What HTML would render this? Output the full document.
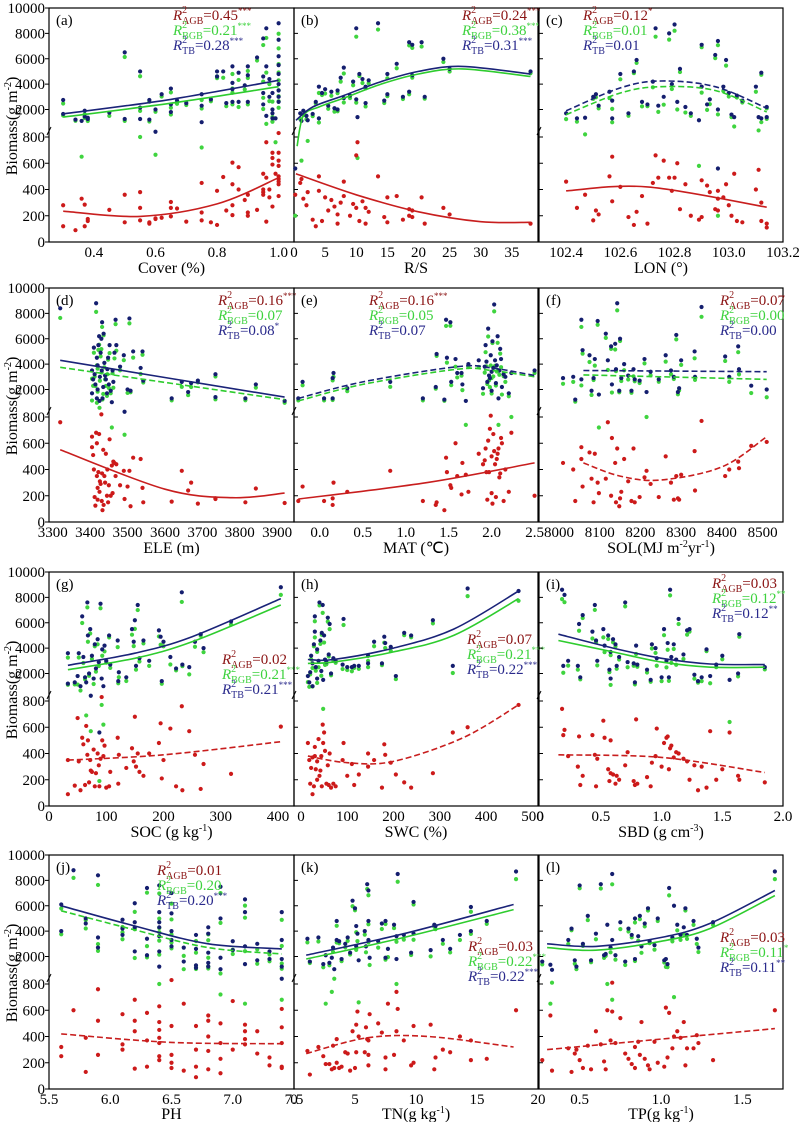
<!DOCTYPE html>
<html><head><meta charset="utf-8">
<style>
html,body{margin:0;padding:0;background:#fff;}
svg{display:block;font-family:"Liberation Serif",serif;}
</style></head>
<body>
<svg id="chart" width="799" height="1122" viewBox="0 0 799 1122" xmlns="http://www.w3.org/2000/svg">
<rect width="799" height="1122" fill="#fff"/>
</svg>
<script>
// ---------- data (x, TB, BGB, AGB per sample) ----------
const aX=[0.30,0.30,0.34,0.36,0.37,0.37,0.38,0.38,0.45,0.50,0.50,0.55,0.55,0.55,0.58,0.58,0.60,0.60,0.62,0.65,0.65,0.65,0.67,0.70,0.75,0.75,0.75,0.78,0.80,0.80,0.82,0.83,0.85,0.85,0.85,0.85,0.87,0.87,0.89,0.90,0.90,0.90,0.93,0.95,0.95,0.95,0.95,0.96,0.96,0.96,0.97,0.97,0.98,0.98,0.98,0.98,0.99,1.00,1.00,1.00,1.00,1.00,1.00,1.00,1.00,1.00];
const aTB=[2750,1650,1200,1100,1900,1450,1350,1250,1750,6500,1250,5000,2150,1250,1200,2750,2000,840,3200,3650,2400,1800,2700,2500,3200,2300,1000,2800,5000,4600,5000,2500,5400,4100,3600,2600,4900,2600,3900,5400,4700,2600,6100,7600,4600,3300,2400,8400,5400,1500,4400,3000,3300,1700,2000,1300,1300,8800,7500,6200,5500,4800,4000,3500,3000,2600];
const aBGB=[2470,1530,1110,650,1620,1330,1180,1090,1500,6140,1100,4620,1890,800,1050,2610,1820,665,3020,3350,2140,1600,2450,2350,2750,2080,720,2650,4610,4470,4500,2260,4800,3660,3320,2400,4330,2200,3580,5040,4480,2400,5860,7080,4200,2920,2040,7640,4910,900,4000,2660,2620,1060,1410,1030,760,7970,6820,5580,4920,4300,3520,3060,2650,2140];
const aAGB=[280,120,90,330,285,120,175,160,245,360,150,380,260,165,150,140,180,175,185,305,260,195,255,155,450,225,165,150,390,130,495,240,605,440,280,205,570,400,320,360,225,200,245,520,400,380,360,760,490,155,400,340,680,640,590,270,520,830,680,620,580,500,480,440,350,460];

const bX=[0.2,1.2,2.2,1,1.5,2,3,3.5,4,4,4.5,5,5.5,6,6.5,7,7,7.5,8,8,9,9.5,10,10,10.2,10.5,11,11.5,11.5,12,13.5,14.5,15,15,16.5,17.5,18.5,18.5,19,19,20.5,21,24,25,38];
const bTB=[560,1100,1150,1700,1900,1500,1650,2600,3800,1300,3300,3600,2300,3400,2100,3500,2000,4500,5300,2900,3100,4200,8400,2800,1400,4800,4400,3800,2500,4300,8800,2700,4800,3200,5600,3000,7300,3400,4700,7100,7300,3000,6000,5200,5000];
const bBGB=[200,620,770,1250,1570,1220,1480,2480,3300,910,3140,3260,2060,3080,1830,3290,1860,4200,4840,2550,2900,3910,7740,2540,640,4640,4090,3660,2240,4070,8300,2510,4460,3050,5250,2830,7050,3200,4510,6860,6960,2860,5740,4990,4860];
const bAGB=[360,480,380,450,330,280,170,120,500,390,160,340,240,320,270,210,140,300,460,350,200,290,660,260,760,160,310,140,260,230,500,190,340,150,350,170,250,200,190,240,340,140,260,210,140];

const cX=[102.40,102.44,102.47,102.50,102.51,102.52,102.56,102.57,102.57,102.60,102.63,102.65,102.66,102.68,102.70,102.72,102.73,102.74,102.76,102.78,102.79,102.80,102.81,102.82,102.84,102.86,102.89,102.90,102.90,102.92,102.93,102.95,102.96,102.96,102.96,102.98,102.99,103.00,103.01,103.02,103.03,103.05,103.10,103.11,103.12,103.12,103.14,103.14];
const cTB=[1700,1300,1350,3000,3200,2300,3400,1300,2700,4800,1700,5000,5900,2600,2400,4200,8400,2300,3000,8000,4000,8700,2600,5200,2200,1700,1150,3800,7100,2400,2800,6300,7400,2000,560,3800,5900,3300,1600,1400,3100,2700,3800,1400,4900,1300,2200,1400];
const cBGB=[1240,1040,820,2835,2960,2090,2900,990,2050,4380,1510,4870,5670,2250,2260,3750,7740,1810,2380,7510,3610,8210,2000,4950,1760,1500,580,3330,6910,1970,2420,6050,7070,1610,200,3460,5460,3020,1400,880,2940,2550,3400,850,4740,1000,2090,1260];
const cAGB=[460,260,360,165,240,210,500,310,650,420,190,130,230,350,140,450,660,490,620,490,390,490,600,250,440,200,170,470,190,430,380,250,330,390,240,340,440,280,200,520,160,150,400,550,160,300,110,140];

const dX=[3320,3405,3405,3408,3410,3412,3414,3416,3418,3418,3420,3420,3422,3424,3425,3426,3428,3430,3431,3432,3433,3435,3436,3438,3440,3442,3445,3446,3448,3450,3452,3455,3458,3460,3462,3465,3468,3470,3480,3490,3492,3500,3505,3508,3515,3535,3540,3542,3618,3645,3662,3670,3688,3735,3735,3815,3843,3920];
const dTB=[8400,3500,1700,2800,5300,3200,2400,8800,4500,1300,3900,2000,5500,6200,1100,3000,4900,6000,3500,7300,1300,2200,6400,4100,3100,2800,1700,3600,4500,2400,5500,1900,1000,3500,2600,4900,7500,5500,3800,4700,840,2000,7600,1900,5000,3700,5000,2700,1300,2600,1800,2500,2700,3200,1400,1300,2400,1100];
const dBGB=[7640,2850,1130,2290,4900,3010,2275,8120,3900,950,3640,1830,5120,5530,870,2690,4610,5180,3340,6930,1210,1650,6270,3750,2800,2280,1500,3200,4350,2120,4870,1700,720,3280,2140,4450,7150,5060,3520,4310,665,1730,7210,1780,4510,3220,4740,2550,1145,2210,1560,2200,2560,3020,1225,1150,2145,955];
const dAGB=[760,650,570,510,400,190,125,680,600,350,260,170,380,670,230,310,290,820,160,370,90,550,130,350,300,520,200,400,150,280,630,200,430,220,460,450,350,440,280,390,175,270,390,120,490,480,260,150,155,390,240,300,140,180,175,150,255,145];

const eX=[-0.25,-0.2,0.05,0.15,0.15,0.16,0.32,0.82,1.2,1.35,1.36,1.45,1.47,1.48,1.52,1.53,1.58,1.6,1.65,1.66,1.7,1.73,1.85,1.9,1.92,1.93,1.94,1.95,1.96,1.97,1.98,1.99,2.0,2.0,2.01,2.02,2.03,2.04,2.05,2.06,2.07,2.08,2.09,2.1,2.11,2.12,2.14,2.16,2.2,2.23,2.5];
const eTB=[1300,2600,1300,1300,2900,3300,2100,2600,1300,2200,4800,1200,7500,4500,7300,2600,4400,3300,3300,2400,1100,4000,4300,2100,3800,5500,4200,2600,6800,3100,2900,4700,3400,1900,5800,3700,8700,4300,2500,3900,6200,1300,3500,5200,4400,2200,3200,3000,1700,3300,3500];
const eBGB=[1140,2330,1140,1170,2720,3000,1870,2210,1140,2070,4650,1110,7010,4120,7020,2340,3800,2950,3090,1950,740,3770,3780,1660,3330,4940,3820,2430,6180,2720,2190,3890,2900,1680,5660,3030,8160,3860,2310,3420,5680,740,3160,4830,3760,1600,3040,2600,1470,800,3300];
const eAGB=[160,270,160,130,180,300,230,390,160,130,150,90,490,380,280,260,600,350,210,450,360,230,520,440,470,560,380,170,620,380,710,810,500,220,140,670,540,440,190,480,520,560,340,370,640,600,160,400,230,680,200];

const fX=[8010,8035,8040,8055,8055,8058,8075,8080,8085,8088,8095,8098,8115,8120,8128,8130,8138,8140,8143,8148,8150,8153,8160,8170,8178,8183,8186,8198,8210,8215,8225,8245,8262,8275,8282,8288,8292,8295,8300,8333,8334,8350,8408,8418,8440,8442,8472,8510];
const fTB=[2900,3000,1200,7500,2800,5100,4700,1900,2900,4400,7400,1600,6400,4300,5400,2400,5600,3600,8800,1900,6000,2900,4000,3100,1900,3600,2800,2700,4400,1800,3400,2800,4700,3500,3000,6300,1800,2100,4300,5000,3000,8500,4600,3000,5400,3600,2300,2000];
const fBGB=[2450,2600,1040,6930,2320,4830,4170,1570,2750,3880,7100,720,6070,3540,5200,1760,5150,3450,8240,1780,5820,2670,3520,2790,1740,3040,2650,2510,4060,800,3110,2610,4200,3200,2830,5950,1620,1930,3940,4460,2760,7730,4250,2600,4940,3190,1720,1390];
const fAGB=[450,400,160,570,480,270,530,330,150,520,300,220,330,760,200,640,450,150,560,120,180,230,480,310,160,560,150,190,340,390,290,190,500,300,170,350,180,170,360,540,240,770,350,400,460,410,580,610];

const gX=[33,33,45,50,52,55,58,60,63,65,67,68,70,72,73,75,78,80,82,85,87,88,90,92,93,95,97,100,105,107,120,121,122,135,145,148,150,152,155,158,165,175,192,195,197,200,212,222,232,233,245,255,265,270,318,405];
const gTB=[3600,1200,1300,1800,3600,1000,6500,3300,1700,1300,7600,5000,2000,5500,840,3400,1600,4300,2400,4700,2900,560,7500,1600,3900,1000,4200,3000,5000,2700,4600,1400,2100,1700,5500,4500,6200,2600,7400,3200,4600,3000,5400,4900,1400,4500,3300,2400,8400,2700,2500,4500,5100,4000,6100,8800];
const gBGB=[3250,1110,1145,1130,3260,880,5980,2830,1540,690,7210,4500,1820,5150,570,3140,1170,4150,2150,4300,2590,190,7140,770,3400,620,3740,2860,4850,2440,4080,1230,1710,1410,5060,4160,5520,2300,7000,2940,4370,2600,4920,4270,1190,4150,2710,2250,7640,2580,1930,4110,4970,3680,5855,8195];
const gAGB=[350,90,155,670,340,120,520,470,160,610,390,500,180,350,270,260,430,150,250,400,310,150,360,830,500,380,460,140,150,260,520,170,390,290,440,340,680,300,400,260,230,400,480,630,210,350,590,150,760,120,570,390,130,320,245,605];

const hX=[15,18,20,22,25,25,28,30,30,32,35,35,38,40,42,44,45,47,48,50,52,55,58,60,62,65,70,75,90,92,100,110,115,125,145,145,158,175,180,182,194,205,223,238,285,328,360,470];
const hTB=[1800,1300,2100,3400,1000,2800,4300,6500,5300,2500,1600,3900,3000,7600,4600,2200,5200,7400,1500,5000,3100,2900,6400,3500,5900,2000,3200,3000,2700,6300,2500,2500,2600,2600,3400,2800,4500,2800,4900,4400,4100,1800,5200,5000,6200,2600,8700,8500];
const hBGB=[1320,950,1930,3110,910,2430,4150,6120,4850,2220,1260,3700,2490,7370,4330,1820,5050,6780,740,4440,2680,2730,6090,3340,5500,1860,3030,2850,2350,5820,2270,2180,2440,2360,3000,2500,4150,2660,4430,4010,3770,1560,5020,4860,5950,2040,8100,7730];
const hAGB=[480,350,170,290,90,370,150,380,450,280,340,200,510,230,270,380,150,620,480,560,420,170,310,160,400,140,170,150,350,480,230,320,160,240,400,300,350,140,470,390,330,240,180,140,250,560,600,770];

const iX=[0.18,0.19,0.20,0.23,0.31,0.32,0.33,0.35,0.43,0.45,0.46,0.47,0.52,0.53,0.56,0.57,0.58,0.58,0.60,0.62,0.63,0.65,0.70,0.72,0.77,0.78,0.79,0.80,0.88,0.91,0.92,0.95,0.96,1.00,1.02,1.04,1.05,1.06,1.07,1.08,1.10,1.12,1.14,1.18,1.21,1.23,1.27,1.30,1.33,1.37,1.40,1.45,1.50,1.56,1.63,1.64,1.85];
const iTB=[8600,2600,8200,3000,2600,5900,1700,6600,5300,7400,4600,3000,5500,4200,5000,2300,1600,3700,4700,4300,2600,3300,7600,2900,2800,1300,4200,2700,2300,1500,4300,4000,3200,1700,5500,3000,4400,1700,8600,3300,4300,3100,6300,3500,5400,5500,1900,1400,1700,3900,1800,2700,3400,1500,2000,5100,2500];
const iBGB=[7860,2060,7620,2620,2300,5370,1540,6370,4760,7010,4450,2640,4850,3680,4720,2110,1100,3450,4460,4130,2370,3100,7290,2490,2610,1140,3540,2530,2080,1350,3970,3620,2610,1400,5020,2480,3870,1420,8160,2840,3930,2690,5900,3140,5060,5300,1590,1280,1400,3760,1230,2500,3120,640,1770,4900,2320];
const iAGB=[740,540,580,380,300,530,160,230,540,390,150,360,650,520,280,190,500,250,240,170,230,200,310,410,190,160,660,170,220,150,330,380,590,300,480,520,530,280,440,460,370,410,400,360,340,200,310,120,300,140,570,200,280,560,230,200,180];

const jX=[5.6,5.6,5.7,5.8,5.8,5.9,5.9,5.9,6.1,6.1,6.1,6.2,6.2,6.2,6.2,6.3,6.3,6.3,6.4,6.4,6.4,6.4,6.4,6.4,6.4,6.5,6.5,6.5,6.5,6.5,6.6,6.6,6.7,6.7,6.7,6.7,6.8,6.8,6.8,6.8,6.8,6.9,6.9,6.9,6.9,7.0,7.0,7.1,7.1,7.1,7.1,7.2,7.2,7.3,7.3,7.4,7.4,7.4,7.4,7.4];
const jTB=[6100,4000,8800,5000,4600,8400,3500,2700,4900,3700,4200,6200,4700,2400,4300,7400,3400,2100,7600,5500,4700,4300,3600,2400,1200,7000,5400,4000,3300,2800,2700,1600,3700,2600,1300,1100,4300,3800,2300,1500,1200,7500,5000,1900,1000,3200,2500,6500,5500,2800,1400,3000,1700,2400,1800,5500,3300,1800,1200,840];
const jBGB=[5780,3750,8200,4870,4210,7640,2980,2440,4330,3360,3900,5520,4260,1880,4145,7030,2820,1930,6970,4990,4250,3910,3250,2150,800,6170,4920,3740,3100,2640,2050,1000,3220,2300,1130,1010,3740,3280,1900,1210,1050,7000,4650,720,880,2530,2200,6010,5060,2420,650,2560,1430,2160,1620,4890,2830,1450,1030,680];
const jAGB=[320,250,600,130,390,760,520,260,570,340,300,680,440,520,155,370,580,170,630,510,450,390,350,250,220,830,480,260,200,160,650,140,480,300,170,90,560,520,400,290,150,500,350,230,120,670,300,490,440,380,340,440,270,240,180,610,470,350,170,160];

const kX=[1.1,1.3,2.0,2.4,2.6,2.9,3.1,3.2,3.3,3.5,3.5,3.7,3.9,4.2,4.4,4.6,4.8,5.0,5.1,5.1,5.2,5.3,5.8,5.9,6.0,6.1,6.1,6.1,6.2,6.9,7.2,7.5,7.5,7.7,8.2,8.4,8.4,8.5,9.0,9.6,9.8,9.8,11.2,11.5,11.6,12.2,12.8,13.6,14.5,14.5,15.8,18.2];
const kTB=[3400,1600,3500,1400,2100,1500,1900,2700,1000,4800,3300,3200,1800,3000,3500,2300,6400,5800,4400,2800,3800,1700,4000,2800,7700,7200,3300,4800,1900,3200,4600,1900,4800,2600,4500,3600,1800,8500,3700,2300,6300,3800,2500,4500,4400,3300,2600,3700,5900,4000,4800,8700];
const kBGB=[3110,1490,3180,1150,650,1310,740,2370,840,4420,3100,3040,1630,2720,3230,2160,5960,5640,3910,2520,3210,660,3720,2330,7320,6830,3120,4540,1330,2700,4170,1750,4560,1950,4240,3160,800,7890,3330,2120,6100,3320,2010,4350,4160,3000,2320,3300,5530,3780,4570,8100];
const kAGB=[290,110,320,250,190,190,150,330,160,380,200,160,170,280,270,140,440,160,490,280,590,400,280,470,380,370,180,260,570,500,430,150,240,650,260,440,740,610,370,180,200,480,490,150,240,300,280,400,370,220,230,600];

const lX=[0.27,0.32,0.33,0.43,0.45,0.47,0.48,0.50,0.52,0.55,0.57,0.60,0.63,0.65,0.66,0.67,0.69,0.70,0.70,0.72,0.75,0.78,0.80,0.82,0.84,0.84,0.86,0.87,0.88,0.90,0.92,0.93,0.96,0.98,1.02,1.03,1.04,1.05,1.07,1.08,1.10,1.12,1.14,1.15,1.16,1.20,1.22,1.23,1.32,1.70];
const lTB=[1600,1350,950,3300,4200,1700,1200,7600,3000,5200,1700,3800,7700,2100,2200,4500,2700,8500,3300,2100,4700,1600,4200,3700,5000,1800,3600,5200,2800,4600,5800,3200,2900,5000,1700,1800,1400,7400,3500,6000,4500,3700,4300,5800,3700,4800,3400,2700,4700,8700];
const lBGB=[1380,650,810,2990,4070,1430,1000,7380,2840,4870,1550,3360,7360,1890,2050,800,2330,7690,680,1750,4160,1330,3970,3510,4680,1640,3240,4940,2290,4370,5620,3050,2540,4800,1530,1180,1160,6820,3190,700,4060,3310,3790,5620,3390,4490,2990,2350,4480,8100];
const lAGB=[220,560,140,310,130,270,300,220,160,330,150,440,340,210,150,600,370,810,590,350,540,270,230,190,320,160,360,260,510,230,180,150,360,200,170,620,240,580,310,400,440,390,510,180,310,310,410,350,220,600];

// fitted regression curves (x, y)
const aFitTB=[[0.3,1650],[0.65,2800],[1.0,4300]], aFitBGB=[[0.3,1400],[0.65,2500],[1.0,3800]], aFitAGB=[[0.3,235],[0.55,195],[0.8,290],[1.0,490]];
const bFitTB=[[0.3,1150],[3,2200],[8,3100],[14,4200],[20,5000],[27,5400],[38,4800]], bFitBGB=[[0.5,730],[1.5,1500],[4,2200],[8,2900],[14,4000],[20,4800],[27,5200],[38,4600]], bFitAGB=[[0.3,520],[10,360],[20,230],[30,155],[38,150]];
const cFitTB=[[102.4,1900],[102.6,3700],[102.75,4250],[102.95,3800],[103.14,2100]], cFitBGB=[[102.4,1600],[102.6,3300],[102.75,3800],[102.95,3500],[103.14,1800]], cFitAGB=[[102.4,390],[102.7,420],[103.14,265]];
const dFitTB=[[3320,4300],[3920,1400]], dFitBGB=[[3320,3750],[3920,1200]], dFitAGB=[[3320,550],[3600,250],[3780,185],[3920,220]];
const eFitTB=[[-0.25,1300],[0.5,2600],[1.6,3800],[2.0,3700],[2.5,3100]], eFitBGB=[[-0.25,1100],[0.5,2400],[1.6,3600],[2.0,3500],[2.5,3000]], eFitAGB=[[-0.25,175],[1.25,300],[2.5,450]];
const fFitTB=[[8060,3500],[8510,3400]], fFitBGB=[[8060,3150],[8510,2800]], fFitAGB=[[8060,450],[8150,350],[8250,320],[8400,420],[8510,650]];
const gFitTB=[[33,2650],[150,3600],[250,4900],[405,7900]], gFitBGB=[[33,2300],[150,3200],[250,4500],[405,7400]], gFitAGB=[[33,350],[200,390],[405,490]];
const hFitTB=[[15,3100],[70,3100],[200,4000],[330,5500],[470,8500]], hFitBGB=[[15,2800],[70,2900],[200,3700],[330,5000],[470,7900]], hFitAGB=[[15,380],[100,330],[200,340],[350,520],[470,770]];
const iFitTB=[[0.15,5100],[0.6,4000],[1.0,3200],[1.4,2750],[1.85,2700]], iFitBGB=[[0.15,4600],[0.6,3700],[1.0,2900],[1.4,2500],[1.85,2500]], iFitAGB=[[0.15,390],[1.0,370],[1.85,255]];
const jFitTB=[[5.6,6000],[6.2,4400],[6.8,3000],[7.4,2600]], jFitBGB=[[5.6,5600],[6.2,4100],[6.8,2700],[7.4,2200]], jFitAGB=[[5.6,420],[6.5,355],[7.4,345]];
const kFitTB=[[1,2100],[9,3800],[18,6100]], kFitBGB=[[1,1800],[9,3500],[18,5700]], kFitAGB=[[1,270],[6,390],[11,400],[18,320]];
const lFitTB=[[0.3,3000],[0.6,2800],[1.0,3500],[1.3,4600],[1.7,7200]], lFitBGB=[[0.3,2700],[0.6,2500],[1.0,3200],[1.3,4200],[1.7,6800]], lFitAGB=[[0.3,300],[1.0,380],[1.7,460]];

// tick values / labels
const aTicks=[0.4,0.6,0.8,1.0], aTickLabels=["0.4","0.6","0.8","1.0"];
const bTicks=[0,5,10,15,20,25,30,35], bTickLabels=["0","5","10","15","20","25","30","35"];
const cTicks=[102.4,102.6,102.8,103.0,103.2], cTickLabels=["102.4","102.6","102.8","103.0","103.2"];
const dTicks=[3300,3400,3500,3600,3700,3800,3900], dTickLabels=["3300","3400","3500","3600","3700","3800","3900"];
const eTicks=[0,0.5,1.0,1.5,2.0,2.5], eTickLabels=["0.0","0.5","1.0","1.5","2.0","2.5"];
const fTicks=[8000,8100,8200,8300,8400,8500], fTickLabels=["8000","8100","8200","8300","8400","8500"];
const gTicks=[0,100,200,300,400], gTickLabels=["0","100","200","300","400"];
const hTicks=[0,100,200,300,400,500], hTickLabels=["0","100","200","300","400","500"];
const iTicks=[0,0.5,1.0,1.5,2.0], iTickLabels=["0","0.5","1.0","1.5","2.0"];
const jTicks=[5.5,6.0,6.5,7.0,7.5], jTickLabels=["5.5","6.0","6.5","7.0","7.5"];
const kTicks=[0,5,10,15,20], kTickLabels=["0","5","10","15","20"];
const lTicks=[0.5,1.0,1.5], lTickLabels=["0.5","1.0","1.5"];
const yUpperTicks=[2000,4000,6000,8000,10000], yLowerTicks=[0,200,400,600,800];

// R2 statistics: [AGB, BGB, TB]
const r2Values={a:["0.45","0.21","0.28"],b:["0.24","0.38","0.31"],c:["0.12","0.01","0.01"],d:["0.16","0.07","0.08"],e:["0.16","0.05","0.07"],f:["0.07","0.00","0.00"],g:["0.02","0.21","0.21"],h:["0.07","0.21","0.22"],i:["0.03","0.12","0.12"],j:["0.01","0.20","0.20"],k:["0.03","0.22","0.22"],l:["0.03","0.11","0.11"]};
const r2Sig={a:["***","***","***"],b:["***","***","***"],c:["*","",""],d:["***","","*"],e:["***","",""],f:["","",""],g:["","***","***"],h:["","***","***"],i:["","**","**"],j:["","","***"],k:["","***","***"],l:["","*","**"]};

// ---------- layout ----------
const COLS=[[49,294],[294,538],[539,783]];
const ROWS=[8,288,572,855];
const PH=234;
const SVGNS="http://www.w3.org/2000/svg";
const svg=document.getElementById('chart');
const RED="#cc1a1a",GREEN="#3fd43f",BLUE="#141e6e";
const LRED="#c81e1e",LGREEN="#2ecc2e",LBLUE="#1a2378";

function mk(tag,attrs,parent){const e=document.createElementNS(SVGNS,tag);for(const k in attrs)e.setAttribute(k,attrs[k]);(parent||svg).appendChild(e);return e;}

// dash flags: [TB, BGB, AGB]
const panels=[
 {id:'a',X:aX,TB:aTB,BGB:aBGB,AGB:aAGB,fTB:aFitTB,fBGB:aFitBGB,fAGB:aFitAGB,dash:[0,0,0],dom:[0.254,1.05],r:0,c:0,t:aTicks,tl:aTickLabels,title:'Cover (%)',ann:[173,12]},
 {id:'b',X:bX,TB:bTB,BGB:bBGB,AGB:bAGB,fTB:bFitTB,fBGB:bFitBGB,fAGB:bFitAGB,dash:[0,0,0],dom:[0,39.2],r:0,c:1,t:bTicks,tl:bTickLabels,title:'R/S',ann:[462,12]},
 {id:'c',X:cX,TB:cTB,BGB:cBGB,AGB:cAGB,fTB:cFitTB,fBGB:cFitBGB,fAGB:cFitAGB,dash:[1,1,0],dom:[102.3,103.2],r:0,c:2,t:cTicks,tl:cTickLabels,title:'LON (°)',ann:[583,12]},
 {id:'d',X:dX,TB:dTB,BGB:dBGB,AGB:dAGB,fTB:dFitTB,fBGB:dFitBGB,fAGB:dFitAGB,dash:[0,1,0],dom:[3290,3945],r:1,c:0,t:dTicks,tl:dTickLabels,title:'ELE (m)',ann:[218,17]},
 {id:'e',X:eX,TB:eTB,BGB:eBGB,AGB:eAGB,fTB:eFitTB,fBGB:eFitBGB,fAGB:eFitAGB,dash:[1,1,0],dom:[-0.3,2.54],r:1,c:1,t:eTicks,tl:eTickLabels,title:'MAT (℃)',ann:[369,17]},
 {id:'f',X:fX,TB:fTB,BGB:fBGB,AGB:fAGB,fTB:fFitTB,fBGB:fFitBGB,fAGB:fFitAGB,dash:[1,1,1],dom:[7951,8550],r:1,c:2,t:fTicks,tl:fTickLabels,title:'SOL',ann:[720,17]},
 {id:'g',X:gX,TB:gTB,BGB:gBGB,AGB:gAGB,fTB:gFitTB,fBGB:gFitBGB,fAGB:gFitAGB,dash:[0,0,1],dom:[0,428],r:2,c:0,t:gTicks,tl:gTickLabels,title:'SOC',ann:[222,92]},
 {id:'h',X:hX,TB:hTB,BGB:hBGB,AGB:hAGB,fTB:hFitTB,fBGB:hFitBGB,fAGB:hFitAGB,dash:[0,0,1],dom:[-15,512],r:2,c:1,t:hTicks,tl:hTickLabels,title:'SWC (%)',ann:[467,72]},
 {id:'i',X:iX,TB:iTB,BGB:iBGB,AGB:iAGB,fTB:iFitTB,fBGB:iFitBGB,fAGB:iFitAGB,dash:[0,0,1],dom:[-0.01,2.0],r:2,c:2,t:iTicks,tl:iTickLabels,title:'SBD',ann:[712,16]},
 {id:'j',X:jX,TB:jTB,BGB:jBGB,AGB:jAGB,fTB:jFitTB,fBGB:jFitBGB,fAGB:jFitAGB,dash:[0,1,1],dom:[5.5,7.5],r:3,c:0,t:jTicks,tl:jTickLabels,title:'PH',ann:[157,20]},
 {id:'k',X:kX,TB:kTB,BGB:kBGB,AGB:kAGB,fTB:kFitTB,fBGB:kFitBGB,fAGB:kFitAGB,dash:[0,0,1],dom:[0,20],r:3,c:1,t:kTicks,tl:kTickLabels,title:'TN',ann:[468,96]},
 {id:'l',X:lX,TB:lTB,BGB:lBGB,AGB:lAGB,fTB:lFitTB,fBGB:lFitBGB,fAGB:lFitAGB,dash:[0,0,1],dom:[0.25,1.75],r:3,c:2,t:lTicks,tl:lTickLabels,title:'TP',ann:[720,87]}
];

function titleHTML(p,el){
  const parts={
   'SOL':[['SOL(MJ m',0],['-2',1],['yr',0],['-1',1],[')',0]],
   'SOC':[['SOC (g kg',0],['-1',1],[')',0]],
   'SBD':[['SBD (g cm',0],['-3',1],[')',0]],
   'TN':[['TN(g kg',0],['-1',1],[')',0]],
   'TP':[['TP(g kg',0],['-1',1],[')',0]]
  }[p.title];
  if(!parts){el.textContent=p.title;return;}
  let up=false;
  parts.forEach(([s,sup])=>{const t=mk('tspan',{},el);t.textContent=s;
    if(sup&&!up){t.setAttribute('dy','-6');t.setAttribute('font-size','10');up=true;}
    else if(!sup&&up){t.setAttribute('dy','6');up=false;}});
}

panels.forEach(p=>{
  const L=COLS[p.c][0],R=COLS[p.c][1],T=ROWS[p.r];
  const g=mk('g',{});
  
  
  const xs=v=>L+(v-p.dom[0])/(p.dom[1]-p.dom[0])*(R-L);
  const ys=v=>v>=950?T+(10000-v)/8000*101.5:T+PH-Math.max(v,0)*105/800;
  const fr=mk('rect',{x:L,y:T,width:R-L,height:PH,fill:'none',stroke:'#000','stroke-width':1.2},g);
  
  
  const dir=p.c===0?-4:4;
  yUpperTicks.concat(yLowerTicks).forEach((v,i)=>{
    const y=i<yUpperTicks.length?T+(10000-v)/8000*101.5:T+PH-v*105/800;
    mk('line',{x1:L,x2:L+dir,y1:y,y2:y,stroke:'#000','stroke-width':1},g);
    if(p.c===0){const tx=mk('text',{x:45,y:y+5,'text-anchor':'end','font-size':15,fill:'#000'},g);
      tx.textContent=String(v);
      
      }
  });
  mk('line',{x1:L-2,y1:T+127,x2:L+2,y2:T+119,stroke:'#000','stroke-width':1},g);
  p.t.forEach((v,i)=>{const tx=mk('text',{x:xs(v),y:T+PH+15,'text-anchor':'middle','font-size':15,fill:'#000'},g);
    tx.textContent=p.tl[i];
    
    });
  const xt=mk('text',{x:(L+R)/2,y:T+PH+(p.r===3?30:31),'text-anchor':'middle','font-size':16,fill:'#000'},g);
  titleHTML(p,xt);
  
  
  const pl=mk('text',{x:L+7,y:T+17,'font-size':15,fill:'#000'},g);
  pl.textContent='('+p.id+')';
  
  
  const series=[[p.BGB,GREEN,'bgb'],[p.TB,BLUE,'tb'],[p.AGB,RED,'agb']];
  series.forEach(([vals,col,nm])=>{
    vals.forEach((v,i)=>{const c=mk('circle',{cx:xs(p.X[i]),cy:ys(v),r:2.1,fill:col},g);
      
      });
  });
  [[p.fBGB,LGREEN,p.dash[1],'bgb'],[p.fTB,LBLUE,p.dash[0],'tb'],[p.fAGB,LRED,p.dash[2],'agb']].forEach(([pts,col,dsh,nm])=>{
    const P=pts.map(q=>[xs(q[0]),ys(q[1])]);
    let d='M'+P[0][0].toFixed(1)+','+P[0][1].toFixed(1);
    for(let i=0;i<P.length-1;i++){
      const p0=P[Math.max(i-1,0)],p1=P[i],p2=P[i+1],p3=P[Math.min(i+2,P.length-1)];
      const c1=[p1[0]+(p2[0]-p0[0])/6,p1[1]+(p2[1]-p0[1])/6];
      const c2=[p2[0]-(p3[0]-p1[0])/6,p2[1]-(p3[1]-p1[1])/6];
      d+=' C'+c1.map(n=>n.toFixed(1)).join(',')+' '+c2.map(n=>n.toFixed(1)).join(',')+' '+p2.map(n=>n.toFixed(1)).join(',');
    }
    const path=mk('path',{d:d,fill:'none',stroke:col,'stroke-width':1.6},g);
    if(dsh)path.setAttribute('stroke-dasharray','6,3');
    
    
  });
  const labs=[['AGB','#8b1414'],['BGB','#3ed23e'],['TB','#2a2a8c']];
  labs.forEach(([sub,col],k)=>{
    const tx=mk('text',{x:p.ann[0],y:T+p.ann[1]+k*15,'font-size':15,fill:col},g);
    const s1=mk('tspan',{'font-style':'italic'},tx);s1.textContent='R';
    const s2=mk('tspan',{dy:-7,'font-size':10},tx);s2.textContent='2';
    const s3=mk('tspan',{dx:-5,dy:11,'font-size':10},tx);s3.textContent=sub;
    const s4=mk('tspan',{dy:-4},tx);s4.textContent='='+r2Values[p.id][k];
    if(r2Sig[p.id][k]){const s5=mk('tspan',{dy:-6,'font-size':9},tx);s5.textContent=r2Sig[p.id][k];}
    
    
  });
});

ROWS.forEach(T=>{
  const cy=T+118;
  const tx=mk('text',{x:0,y:0,'text-anchor':'middle','font-size':16,fill:'#000',transform:'translate(17,'+cy+') rotate(-90)'});
  const a=mk('tspan',{},tx);a.textContent='Biomass(g m';
  const b=mk('tspan',{dy:-6,'font-size':10},tx);b.textContent='-2';
  const c=mk('tspan',{dy:6},tx);c.textContent=')';
  
  
});
</script>
</body></html>
